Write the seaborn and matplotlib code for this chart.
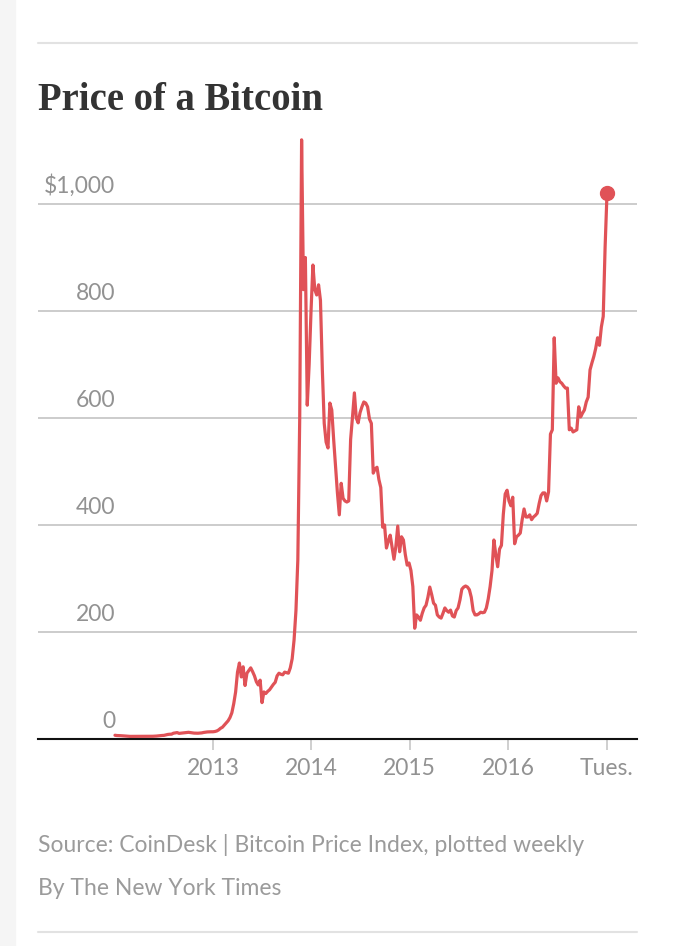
import pandas as pd
import matplotlib
matplotlib.use("Agg")
import matplotlib.pyplot as plt
import matplotlib.dates as mdates
import matplotlib.transforms as mtransforms
from matplotlib.patches import Rectangle
import seaborn as sns

# weekly Bitcoin price (USD), one list per year
prices_2012 = [7.0, 6.5, 6.4, 6.2, 5.9,
               5.6, 5.3, 4.9, 4.9,
               4.9, 5.0, 4.9, 4.8,
               4.9, 4.9, 5.0, 5.1, 5.0,
               5.1, 5.0, 5.1, 5.2,
               5.5, 5.9, 6.4, 6.6,
               6.8, 7.6, 8.5, 8.9, 9.0,
               10.8, 11.5, 12.0, 10.5,
               10.9, 11.2, 11.9, 12.3,
               12.5, 12.0, 11.6, 11.0, 10.8,
               10.8, 11.0, 11.4, 12.2,
               12.7, 13.2, 13.4, 13.5]
prices_2013 = [13.5, 14, 15, 17, 20, 22, 26, 30, 34, 40, 49, 66, 88, 125,
               142, 116, 135, 100, 123, 128, 133, 126, 118, 107, 101, 110, 68, 88,
               85, 89, 92, 97, 102, 106, 118, 123, 121, 120, 125, 124, 123, 133,
               150, 185, 240, 335, 600, 1120, 840, 900, 624, 700]
prices_2014 = [800, 886, 840, 830, 849, 820, 690, 590, 555, 544, 628, 615, 560, 510,
               460, 419, 478, 450, 445, 443, 445, 560, 602, 647, 600, 591, 610, 621,
               630, 628, 621, 598, 590, 497, 505, 508, 485, 470, 396, 400, 357, 370,
               381, 359, 336, 360, 398, 350, 378, 372, 345, 325]
prices_2015 = [329, 315, 285, 207, 232, 228, 222, 235, 245, 250, 265, 284, 270, 254,
               250, 232, 228, 226, 235, 245, 240, 237, 241, 230, 228, 240, 245, 260,
               280, 284, 286, 284, 279, 265, 240, 232, 232, 234, 237, 236, 237, 245,
               262, 285, 315, 372, 345, 322, 355, 362, 420, 458]
prices_2016 = [465, 445, 436, 452, 365, 378, 381, 385, 410, 430, 415, 415, 419, 410,
               415, 418, 422, 440, 455, 460, 460, 445, 462, 570, 578, 750, 665, 675,
               668, 665, 660, 656, 656, 578, 581, 574, 576, 578, 621, 602, 609, 615,
               630, 639, 690, 703, 715, 730, 750, 736, 770, 790, 920, 1020]

prices = prices_2012 + prices_2013 + prices_2014 + prices_2015 + prices_2016
dates = pd.date_range("2012-01-03", periods=len(prices), freq="7D")
df = pd.DataFrame({"date": dates, "price": prices})

y_ticks = [0, 200, 400, 600, 800, 1000]
y_labels = ["0", "200", "400", "600", "800", "$1,000"]
x_ticks = ["2013-01-01", "2014-01-01", "2015-01-01", "2016-01-01", "2017-01-03"]
x_labels = ["2013", "2014", "2015", "2016", "Tues."]

red = "#e05257"
grey_txt = "#929292"

sns.set_style("white")
plt.rcParams["font.family"] = ["Lato", "DejaVu Sans"]

W, H = 682, 946
fig = plt.figure(figsize=(W / 100, H / 100), dpi=100)

# pixel layout
left_px, right_px = 38, 637
zero_px, top_px = 739, 134.5
ax = fig.add_axes([left_px / W, (H - zero_px) / H,
                   (right_px - left_px) / W, (zero_px - top_px) / H])

sns.lineplot(data=df, x="date", y="price", ax=ax, color=red, lw=2.3,
             solid_joinstyle="round", zorder=3)
last = df.iloc[-1]
ax.plot([last["date"]], [last["price"]], "o", color=red, ms=10, zorder=4)

# x range: 2013 tick at px 213, Tues. at px 607
t0 = mdates.date2num(pd.Timestamp("2013-01-01"))
t1 = mdates.date2num(pd.Timestamp("2017-01-03"))
ppd = (607 - 213) / (t1 - t0)
ax.set_xlim(t0 - (213 - left_px) / ppd, t0 + (right_px - 213) / ppd)
ax.set_ylim(0, 1130)

ax.set_xticks([mdates.date2num(pd.Timestamp(d)) for d in x_ticks])
ax.set_xticklabels(x_labels, fontsize=16.5, color=grey_txt)
ax.tick_params(axis="x", length=8, width=1.3, color="#cccccc", pad=6,
               direction="out", bottom=True)
ax.set_yticks(y_ticks)
ax.set_yticklabels([])
ax.tick_params(axis="y", length=0)
ax.set_xlabel("")
ax.set_ylabel("")

for v in y_ticks[1:]:
    ax.axhline(v, color="#cccccc", lw=1.4, zorder=1)

trans = mtransforms.blended_transform_factory(ax.transAxes, ax.transData)
for v, lab in zip(y_ticks, y_labels):
    ax.text((115 - left_px) / (right_px - left_px), v + 21, lab, transform=trans,
            ha="right", va="baseline", fontsize=16.5, color=grey_txt)

for s in ["top", "right", "left"]:
    ax.spines[s].set_visible(False)
ax.spines["bottom"].set_color("#111111")
ax.spines["bottom"].set_linewidth(1.5)
ax.spines["bottom"].set_zorder(5)

# title, notes, rules
fig.text(left_px / W, 1 - 110 / H, "Price of a Bitcoin", fontsize=27.8,
         fontweight="bold", color="#333333", ha="left", va="baseline",
         family=["Liberation Serif", "DejaVu Serif"])
fig.text(left_px / W, 1 - 852 / H, "Source: CoinDesk | Bitcoin Price Index, plotted weekly",
         fontsize=16.5, color="#9b9b9b", ha="left", va="baseline")
fig.text(left_px / W, 1 - 895 / H, "By The New York Times",
         fontsize=16.5, color="#9b9b9b", ha="left", va="baseline")

for ypx in (43.5, 932):
    fig.add_artist(plt.Line2D([left_px / W, right_px / W], [1 - ypx / H, 1 - ypx / H],
                              color="#e2e2e2", lw=1.5))
fig.add_artist(Rectangle((0, 0), 15 / W, 1, transform=fig.transFigure,
                         color="#f5f5f5", zorder=0))

fig.savefig("out.png", dpi=100)
